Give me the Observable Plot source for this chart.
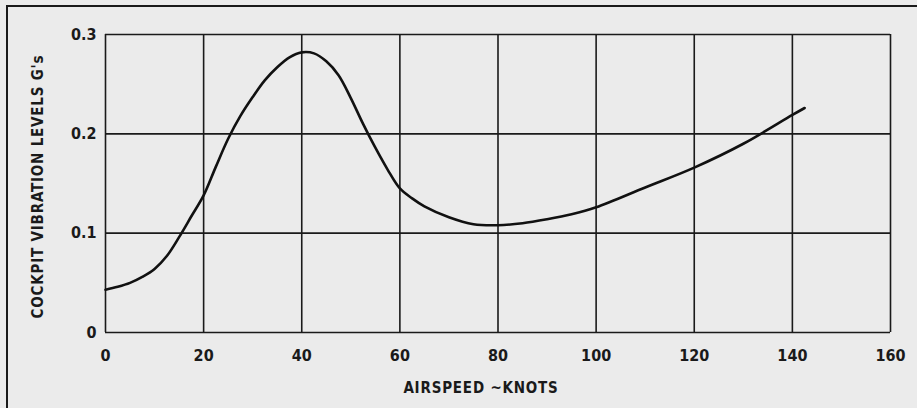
<!DOCTYPE html>
<html>
<head>
<meta charset="utf-8">
<script src="https://cdn.jsdelivr.net/npm/d3@7"></script>
<script src="https://cdn.jsdelivr.net/npm/@observablehq/plot@0.6"></script>
<style>
  html, body { margin: 0; padding: 0; background: #ebebeb; }
  #wrap { position: relative; width: 917px; height: 408px; overflow: hidden; background: #ebebeb; }
  #frame { position: absolute; left: 6px; top: 5px; width: 920px; height: 420px;
           border-left: 2px solid #1a1a1a; border-top: 2px solid #1a1a1a; pointer-events: none; }
  #chart { position: absolute; left: 0; top: 0; }
  svg { font-family: "DejaVu Sans Condensed", "DejaVu Sans", sans-serif; font-stretch: condensed; font-weight: bold; }
  .axis-title { letter-spacing: 0.8px; }
</style>
</head>
<body>
<div id="wrap"><div id="chart"></div><div id="frame"></div></div>
<script>
// Airspeed (knots) and cockpit vibration level (G's)
const airspeed = [0, 2.5, 5, 7.5, 10, 12.5, 15, 17.5, 20, 22.5, 25, 27.5, 30, 32.5, 35, 37.5, 40, 42.5, 45, 47.5, 50, 52.5, 55, 57.5, 60, 62.5, 65, 70, 75, 80, 85, 90, 95, 100, 110, 120, 130, 140, 142.5];
const vibration = [0.043, 0.046, 0.05, 0.056, 0.064, 0.077, 0.096, 0.117, 0.138, 0.167, 0.195, 0.218, 0.237, 0.254, 0.267, 0.277, 0.282, 0.281, 0.273, 0.259, 0.236, 0.21, 0.186, 0.164, 0.145, 0.135, 0.127, 0.116, 0.109, 0.108, 0.11, 0.114, 0.119, 0.126, 0.146, 0.166, 0.19, 0.219, 0.226];

const xTicks = [0, 20, 40, 60, 80, 100, 120, 140, 160];
const yTicks = [0, 0.1, 0.2, 0.3];
const yTickLabels = ["0", "0.1", "0.2", "0.3"];
const xLabel = "AIRSPEED ~KNOTS";
const yLabel = "COCKPIT VIBRATION LEVELS G's";

const data = airspeed.map((a, i) => ({airspeed: a, g: vibration[i]}));

const chart = Plot.plot({
  width: 917,
  height: 408,
  marginLeft: 105,
  marginRight: 27,
  marginTop: 34,
  marginBottom: 76,
  style: {background: "transparent", fontSize: "16px", color: "#1a1a1a"},
  x: {domain: [0, 160], ticks: xTicks},
  y: {domain: [0, 0.3], ticks: yTicks},
  marks: [
    Plot.ruleX(xTicks, {stroke: "#1a1a1a", strokeWidth: 1.6}),
    Plot.ruleY(yTicks, {stroke: "#1a1a1a", strokeWidth: 1.6}),
    Plot.axisX({ticks: xTicks, tickSize: 0, tickPadding: 17, label: null, fontSize: 16, fontWeight: "bold"}),
    Plot.axisY({ticks: yTicks, tickSize: 0, tickPadding: 9, label: null, fontSize: 16, fontWeight: "bold",
                tickFormat: (d) => yTickLabels[yTicks.indexOf(d)]}),
    Plot.line(data, {x: "airspeed", y: "g", curve: "catmull-rom", stroke: "#111", strokeWidth: 2.6}),
    Plot.text([xLabel], {frameAnchor: "bottom", dx: -17, dy: 60, text: (d) => d, fontSize: 15, fontWeight: "bold", fill: "#1a1a1a", className: "axis-title"}),
    Plot.text([yLabel], {frameAnchor: "left", textAnchor: "middle", dx: -67, dy: 3, rotate: -90, text: (d) => d, fontSize: 15, fontWeight: "bold", fill: "#1a1a1a", className: "axis-title"})
  ]
});
document.getElementById("chart").appendChild(chart);
</script>
</body>
</html>
